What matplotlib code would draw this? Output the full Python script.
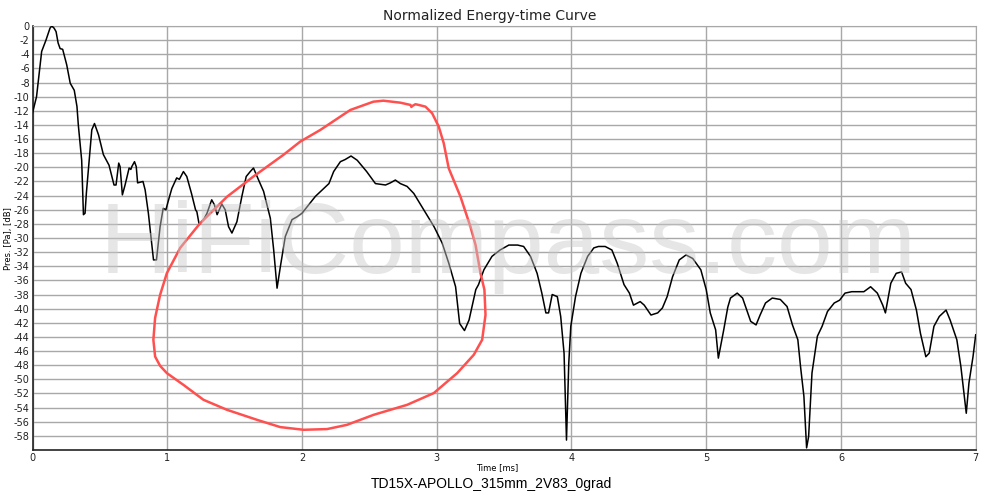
import matplotlib
matplotlib.use("Agg")
import matplotlib.pyplot as plt

# energy-time curve
time_ms = [0.00, 0.03, 0.068, 0.10, 0.13, 0.143, 0.16, 0.175, 0.19, 0.205, 0.224, 0.254,
           0.28, 0.31, 0.33, 0.34, 0.365, 0.378, 0.39, 0.40, 0.44, 0.46, 0.49, 0.526,
           0.568, 0.605, 0.62, 0.64, 0.65, 0.667, 0.687, 0.717, 0.73, 0.737, 0.757, 0.77,
           0.78, 0.82, 0.836, 0.86, 0.898, 0.92, 0.947, 0.97, 0.99, 1.01, 1.034, 1.07,
           1.09, 1.12, 1.145, 1.18, 1.21, 1.22, 1.237, 1.27, 1.295, 1.33, 1.35, 1.37,
           1.405, 1.43, 1.455, 1.48, 1.517, 1.554, 1.586, 1.616, 1.64, 1.678, 1.715, 1.765,
           1.79, 1.815, 1.84, 1.876, 1.926, 1.963, 2.0, 2.05, 2.10, 2.15, 2.20, 2.235,
           2.285, 2.32, 2.364, 2.41, 2.48, 2.545, 2.62, 2.656, 2.693, 2.73, 2.78, 2.83,
           2.903, 2.98, 3.04, 3.09, 3.14, 3.17, 3.206, 3.24, 3.29, 3.31, 3.35, 3.41,
           3.47, 3.535, 3.6, 3.645, 3.696, 3.745, 3.78, 3.81, 3.83, 3.857, 3.895, 3.92,
           3.945, 3.963, 3.98, 3.995, 4.03, 4.07, 4.12, 4.166, 4.2, 4.25, 4.3, 4.34,
           4.39, 4.43, 4.46, 4.51, 4.54, 4.59, 4.64, 4.675, 4.71, 4.75, 4.8, 4.85,
           4.9, 4.96, 5.0, 5.03, 5.07, 5.09, 5.13, 5.16, 5.18, 5.23, 5.27, 5.33,
           5.37, 5.40, 5.44, 5.49, 5.55, 5.6, 5.64, 5.68, 5.70, 5.725, 5.745, 5.76,
           5.785, 5.825, 5.86, 5.9, 5.95, 5.99, 6.03, 6.08, 6.17, 6.22, 6.27, 6.31,
           6.33, 6.37, 6.41, 6.45, 6.48, 6.52, 6.56, 6.59, 6.63, 6.655, 6.69, 6.73,
           6.78, 6.81, 6.86, 6.89, 6.93, 6.95, 6.98, 7.0]
level_db = [-12.3, -10.0, -3.6, -2.0, -0.3, 0.0, -0.3, -0.8, -2.4, -3.2, -3.3, -5.5,
            -8.1, -9.1, -11.4, -14.0, -19.0, -26.7, -26.5, -23.6, -14.7, -13.8, -15.4, -18.2,
            -19.7, -22.5, -22.5, -19.4, -19.9, -23.9, -22.5, -20.1, -20.3, -19.9, -19.2, -19.9,
            -22.2, -22.0, -23.2, -26.5, -33.1, -33.1, -28.4, -25.8, -26.0, -24.6, -23.0, -21.5,
            -21.7, -20.6, -21.3, -23.7, -26.0, -26.3, -28.1, -27.4, -26.5, -24.6, -25.3, -26.7,
            -25.2, -26.0, -28.4, -29.3, -27.7, -24.1, -21.3, -20.6, -20.1, -21.8, -23.4, -27.2,
            -31.7, -37.1, -34.0, -29.8, -27.4, -27.0, -26.5, -25.3, -24.1, -23.2, -22.3, -20.6,
            -19.2, -18.9, -18.4, -19.0, -20.6, -22.3, -22.5, -22.2, -21.8, -22.3, -22.7, -23.7,
            -26.0, -28.4, -30.7, -33.6, -36.9, -42.1, -43.1, -41.6, -37.3, -36.6, -34.5, -32.6,
            -31.7, -31.0, -31.0, -31.2, -32.6, -35.0, -37.8, -40.6, -40.6, -38.0, -38.3, -41.1,
            -46.3, -58.6, -47.7, -42.5, -38.3, -35.0, -32.6, -31.4, -31.2, -31.2, -31.7, -33.6,
            -36.6, -37.8, -39.5, -39.0, -39.5, -40.9, -40.6, -39.9, -38.3, -35.5, -33.1, -32.4,
            -32.9, -34.5, -37.3, -40.6, -43.0, -47.0, -43.0, -39.8, -38.5, -37.8, -38.5, -41.8,
            -42.3, -40.9, -39.2, -38.5, -38.7, -39.7, -42.3, -44.4, -48.2, -52.4, -59.7, -58.1,
            -49.1, -43.9, -42.5, -40.4, -39.2, -38.8, -37.8, -37.6, -37.6, -36.9, -37.8, -39.5,
            -40.6, -36.4, -35.0, -34.8, -36.4, -37.3, -40.2, -43.5, -46.8, -46.3, -42.5, -41.1,
            -40.2, -41.6, -44.4, -48.2, -54.8, -50.5, -46.8, -43.7]

# hand-drawn red loop (in data units)
loop_t = [2.812, 2.805, 2.730, 2.604, 2.530, 2.359, 2.136, 1.987, 1.861, 1.638, 1.445, 1.244,
          1.096, 0.997, 0.947, 0.910, 0.897, 0.910, 0.947, 0.997, 1.120, 1.269, 1.443, 1.666,
          1.839, 2.012, 2.186, 2.334, 2.532, 2.780, 2.978, 3.152, 3.275, 3.337, 3.362, 3.354,
          3.325, 3.288, 3.250, 3.176, 3.089, 3.052, 3.015, 2.966, 2.916, 2.866, 2.842, 2.819]
loop_db = [-11.46, -11.17, -10.85, -10.57, -10.71, -11.88, -14.71, -16.36, -18.25, -21.32, -24.14, -27.91,
           -31.40, -34.98, -38.05, -41.30, -44.41, -46.78, -48.09, -49.12, -50.78, -52.90, -54.31, -55.73,
           -56.76, -57.14, -57.04, -56.44, -55.02, -53.61, -51.95, -49.12, -46.53, -44.41, -40.88, -37.34,
           -34.98, -30.98, -28.39, -24.14, -20.13, -16.59, -14.24, -12.35, -11.41, -11.17, -11.07, -11.32]

x_ticks = [0, 1, 2, 3, 4, 5, 6, 7]
y_ticks = list(range(0, -59, -2))

fig = plt.figure(figsize=(10, 4.98), dpi=100)
ax = fig.add_axes([0.0325, 0.0964, 0.9432, 0.8514])

ax.set_xlim(0, 7)
ax.set_ylim(-60, 0)
ax.set_xticks(x_ticks)
ax.set_yticks(y_ticks)
ax.set_yticklabels([str(v) for v in y_ticks])
ax.tick_params(length=0, labelsize=7, pad=2, colors="#222222")
ax.grid(True, color="#a8a8a8", linewidth=1.0)
ax.set_axisbelow(True)

for side in ["top", "right"]:
    ax.spines[side].set_color("#a8a8a8")
for side in ["left", "bottom"]:
    ax.spines[side].set_color("#222222")
    ax.spines[side].set_linewidth(1.2)

# watermark
fig.text(0.10, 1 - 273 / 498, "HiFiCompass.com", family="Liberation Sans",
         fontsize=72, color="#c8c8c8", alpha=0.45, va="baseline", ha="left", zorder=1)

ax.plot(time_ms, level_db, color="black", linewidth=1.1, zorder=3)
ax.plot(loop_t, loop_db, color="#ff5050", linewidth=1.8, solid_joinstyle="round",
        solid_capstyle="round", zorder=4)

fig.text(0.49, 1 - 16 / 498, "Normalized Energy-time Curve", ha="center", va="center",
         fontsize=10, color="#222222")
fig.text(0.497, 1 - 468 / 498, "Time [ms]", ha="center", va="center", fontsize=6)
fig.text(0.491, 1 - 484 / 498, "TD15X-APOLLO_315mm_2V83_0grad", ha="center", va="center",
         family="Liberation Sans", fontsize=10, color="black")
fig.text(0.009, 1 - 239 / 498, "Pres. [Pa], [dB]", rotation=90, ha="center", va="center",
         fontsize=6)

fig.savefig("out.png", dpi=100)
